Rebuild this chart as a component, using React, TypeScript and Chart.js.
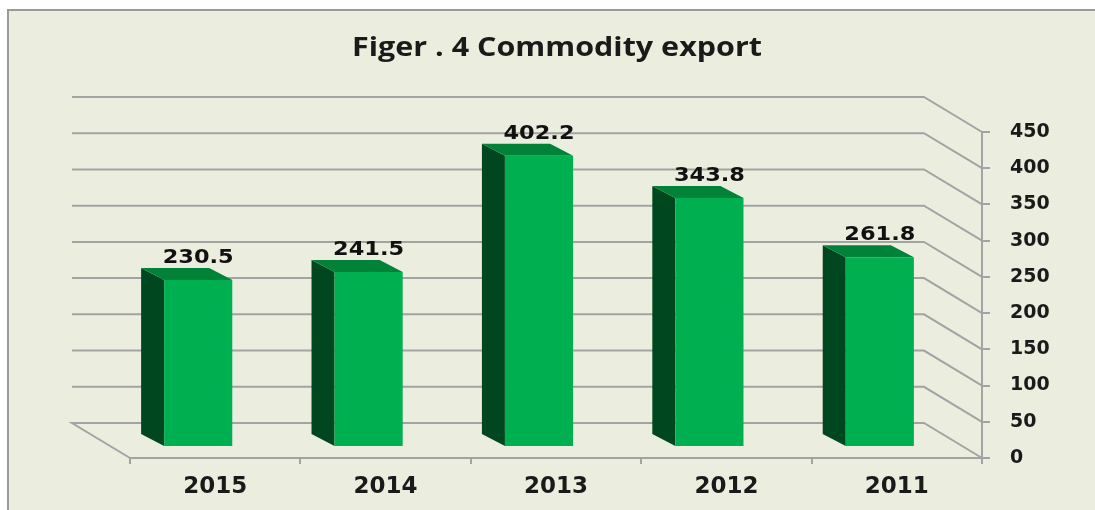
import React, { useEffect, useRef } from 'react';
import { Chart, registerables } from 'chart.js';

Chart.register(...registerables);

const categories = ['2015', '2014', '2013', '2012', '2011'];
const exportValues = [230.5, 241.5, 402.2, 343.8, 261.8];
const yTickValues = [0, 50, 100, 150, 200, 250, 300, 350, 400, 450];
const titleText = 'Figer . 4 Commodity export';

const BG = '#ebeedf';
const GRID = '#a3a3a3';
const FRONT = '#00b050';
const SIDE = '#00461e';
const TOP = '#008238';

const WALL_DX = -58;
const WALL_DY = -35;
const BAR_DX = -17;
const BAR_DY = -11;
const SIDE_DX = -23;
const SIDE_DY = -12;

const threeD = {
  id: 'threeD',
  beforeDatasetsDraw(chart: any) {
    const { ctx, chartArea, scales } = chart;
    const { left, right } = chartArea;
    const y = scales.y;
    ctx.save();
    ctx.strokeStyle = GRID;
    ctx.lineWidth = 2;
    yTickValues.forEach((v) => {
      const yf = y.getPixelForValue(v);
      ctx.beginPath();
      if (v === 0) {
        ctx.moveTo(left, yf);
        ctx.lineTo(left + WALL_DX, yf + WALL_DY);
      } else {
        ctx.moveTo(left + WALL_DX, yf + WALL_DY);
      }
      ctx.lineTo(right + WALL_DX, yf + WALL_DY);
      ctx.lineTo(right, yf);
      ctx.stroke();
    });
    ctx.restore();

    ctx.save();
    ctx.translate(BAR_DX, BAR_DY);
    const meta = chart.getDatasetMeta(0);
    meta.data.forEach((bar: any) => {
      const p = bar.getProps(['x', 'y', 'base', 'width'], true);
      const l = p.x - p.width / 2;
      const r = p.x + p.width / 2;
      const top = p.y;
      const base = p.base;
      ctx.fillStyle = SIDE;
      ctx.beginPath();
      ctx.moveTo(l, top);
      ctx.lineTo(l + SIDE_DX, top + SIDE_DY);
      ctx.lineTo(l + SIDE_DX, base + SIDE_DY);
      ctx.lineTo(l, base);
      ctx.closePath();
      ctx.fill();
      ctx.fillStyle = TOP;
      ctx.beginPath();
      ctx.moveTo(l, top);
      ctx.lineTo(r, top);
      ctx.lineTo(r + SIDE_DX, top + SIDE_DY);
      ctx.lineTo(l + SIDE_DX, top + SIDE_DY);
      ctx.closePath();
      ctx.fill();
    });
  },
  afterDatasetsDraw(chart: any) {
    const { ctx } = chart;
    ctx.restore();
    const meta = chart.getDatasetMeta(0);
    ctx.save();
    ctx.fillStyle = '#111111';
    ctx.font = 'bold 20px "DejaVu Sans"';
    ctx.textAlign = 'center';
    ctx.textBaseline = 'alphabetic';
    const sx = 71 / ctx.measureText('230.5').width;
    meta.data.forEach((bar: any, i: number) => {
      const p = bar.getProps(['x', 'y'], true);
      ctx.save();
      ctx.translate(p.x + BAR_DX, p.y + BAR_DY - 17);
      ctx.scale(sx, 1);
      ctx.fillText(String(exportValues[i]), 0, 0);
      ctx.restore();
    });
    ctx.restore();
  },
  afterDraw(chart: any) {
    const { ctx } = chart;
    ctx.save();
    ctx.fillStyle = '#1a1a1a';
    ctx.font = 'bold 27px "Open Sans"';
    ctx.textAlign = 'center';
    ctx.textBaseline = 'alphabetic';
    const sx = 410 / ctx.measureText(titleText).width;
    ctx.translate(548, 45);
    ctx.scale(sx, 1);
    ctx.fillText(titleText, 0, 0);
    ctx.restore();
  },
};

export default function App() {
  const canvasRef = useRef<HTMLCanvasElement | null>(null);

  useEffect(() => {
    if (!canvasRef.current) return;
    const chart = new Chart(canvasRef.current, {
      type: 'bar',
      data: {
        labels: categories,
        datasets: [
          {
            data: exportValues,
            backgroundColor: FRONT,
            borderWidth: 0,
            barPercentage: 0.4,
            categoryPercentage: 1,
          },
        ],
      },
      options: {
        animation: false,
        responsive: true,
        maintainAspectRatio: false,
        layout: { padding: { left: 121, right: 0, top: 121, bottom: 0 } },
        plugins: {
          legend: { display: false },
          tooltip: { enabled: false },
          title: { display: false },
        },
        scales: {
          x: {
            position: 'bottom',
            grid: {
              offset: true,
              drawOnChartArea: false,
              drawTicks: true,
              tickLength: 6,
              color: GRID,
              lineWidth: 2,
            },
            border: { display: true, color: GRID, width: 2 },
            ticks: {
              color: '#1a1a1a',
              font: { family: '"DejaVu Sans"', size: 23, weight: 'bold' },
              padding: 9,
            },
            afterFit: (scale: any) => {
              scale.height = 52;
            },
          },
          y: {
            position: 'right',
            min: 0,
            max: 450,
            grid: {
              drawOnChartArea: false,
              drawTicks: true,
              tickLength: 8,
              color: GRID,
              lineWidth: 2,
            },
            border: { display: true, color: GRID, width: 2 },
            ticks: {
              stepSize: 50,
              color: '#1a1a1a',
              crossAlign: 'near',
              font: { family: '"DejaVu Sans"', size: 19, weight: 'bold' },
              padding: 20,
            },
            afterFit: (scale: any) => {
              scale.width = 113;
            },
          },
        },
      },
      plugins: [threeD],
    });
    return () => chart.destroy();
  }, []);

  return (
    <div style={{ position: 'fixed', left: 0, top: 0, width: 1095, height: 510, background: '#ffffff', overflow: 'hidden' }}>
      <div
        style={{
          position: 'absolute',
          left: 7,
          top: 9,
          width: 1088,
          height: 501,
          boxSizing: 'border-box',
          borderTop: '2px solid #9a9a9a',
          borderLeft: '2px solid #9a9a9a',
          background: BG,
        }}
      >
        <div style={{ position: 'absolute', left: 0, top: 0, width: 1086, height: 499 }}>
          <canvas ref={canvasRef} />
        </div>
      </div>
    </div>
  );
}
